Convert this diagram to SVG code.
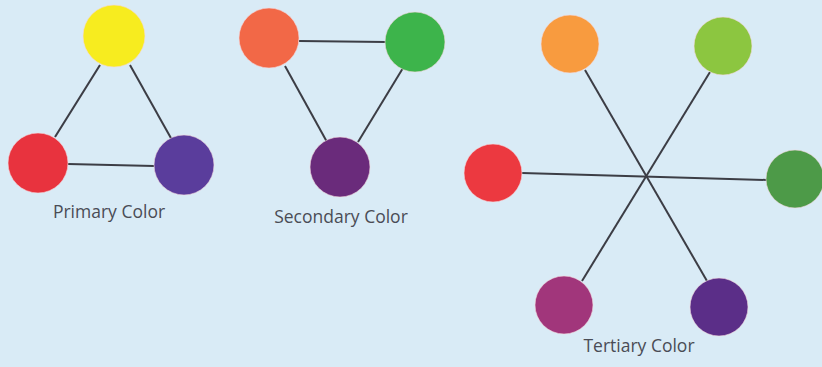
<svg xmlns="http://www.w3.org/2000/svg" width="822" height="367" viewBox="0 0 822 367">
<style>
.bg{fill:#d9ebf6}
.ln{stroke:#3c3d45;stroke-width:2;fill:none}
.lbl{font-family:"Open Sans","Noto Sans",sans-serif;font-size:17.5px;fill:#4a4c55}
circle{stroke:#f3d9de;stroke-width:1;stroke-opacity:0.6}
</style>
<rect class="bg" x="0" y="0" width="822" height="367"/>
<g id="connectors">
<line class="ln" x1="100" y1="65" x2="55" y2="137"/>
<line class="ln" x1="130" y1="65" x2="172" y2="140"/>
<line class="ln" x1="68" y1="164" x2="154" y2="166"/>
<line class="ln" x1="299" y1="41" x2="386" y2="42"/>
<line class="ln" x1="285" y1="66" x2="327" y2="142"/>
<line class="ln" x1="403" y1="68" x2="358" y2="142"/>
<line class="ln" x1="585" y1="70" x2="707" y2="281"/>
<line class="ln" x1="710" y1="72" x2="582" y2="281"/>
<line class="ln" x1="522" y1="173" x2="767" y2="180"/>
</g>
<g id="primary-yellow"><circle cx="114" cy="36" r="31" fill="#f7ec1f"/></g>
<g id="primary-red"><circle cx="38" cy="163" r="30" fill="#e8333e"/></g>
<g id="primary-blue"><circle cx="184" cy="165" r="30" fill="#5a3d9c"/></g>
<g id="primary-label"><text class="lbl" x="109" y="218" text-anchor="middle">Primary Color</text></g>
<g id="secondary-orange"><circle cx="269" cy="38" r="30" fill="#f26847"/></g>
<g id="secondary-green"><circle cx="415" cy="42" r="30" fill="#3db44b"/></g>
<g id="secondary-purple"><circle cx="340" cy="167" r="30" fill="#6a2b7b"/></g>
<g id="secondary-label"><text class="lbl" x="341" y="223" text-anchor="middle">Secondary Color</text></g>
<g id="tertiary-orange"><circle cx="570" cy="44" r="29" fill="#f89b3f"/></g>
<g id="tertiary-yellowgreen"><circle cx="723" cy="46" r="29" fill="#8cc640"/></g>
<g id="tertiary-red"><circle cx="493" cy="173" r="29" fill="#ec3940"/></g>
<g id="tertiary-bluegreen"><circle cx="795" cy="179" r="29" fill="#4d9a48"/></g>
<g id="tertiary-redviolet"><circle cx="564" cy="305" r="29" fill="#a1367b"/></g>
<g id="tertiary-blueviolet"><circle cx="719" cy="307" r="29" fill="#5b2e88"/></g>
<g id="tertiary-label"><text class="lbl" x="639" y="352" text-anchor="middle">Tertiary Color</text></g>
</svg>
